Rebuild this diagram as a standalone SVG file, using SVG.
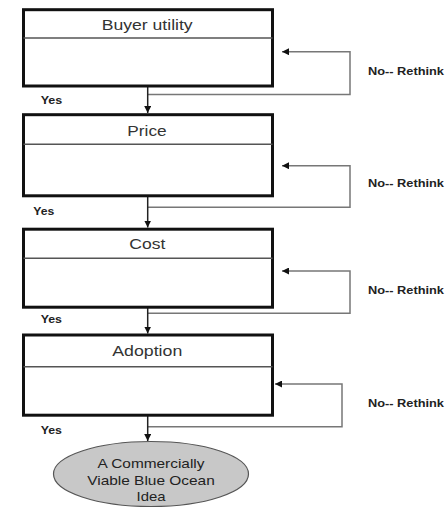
<svg xmlns="http://www.w3.org/2000/svg" width="446" height="509" viewBox="0 0 446 509">
<defs>
<marker id="ah" viewBox="0 0 10 10" refX="10" refY="5" markerWidth="7" markerHeight="7" markerUnits="userSpaceOnUse" orient="auto">
<path d="M0,0 L10,5 L0,10 Z" fill="#111"/>
</marker>
<style>
.box{fill:#fff;stroke:#111;stroke-width:3}
.div{stroke:#555;stroke-width:1.5}
.title{font-family:"Liberation Sans",Arial,sans-serif;font-size:15.5px;fill:#333;text-anchor:middle}
.lbl{font-family:"Liberation Sans",Arial,sans-serif;font-size:10px;font-weight:bold;fill:#222}
.flow{fill:none;stroke:#222;stroke-width:1.5}
.back{fill:none;stroke:#777;stroke-width:1.5}
.oval{fill:#c8c8c8;stroke:#555;stroke-width:1.2}
.otext{font-family:"Liberation Sans",Arial,sans-serif;font-size:13.5px;fill:#222;text-anchor:middle}
</style>
</defs>
<rect width="446" height="509" fill="#fff"/>
<g id="connectors">
<path class="back" d="M147.7,94.5 H350 V51.7 H282" marker-end="url(#ah)"/>
<path class="back" d="M147.7,207.3 H350 V165.7 H282" marker-end="url(#ah)"/>
<path class="back" d="M147.7,313.3 H350 V271 H282" marker-end="url(#ah)"/>
<path class="back" d="M147.7,426.7 H342 V384 H275" marker-end="url(#ah)"/>
<path class="flow" d="M147.7,86 V113" marker-end="url(#ah)"/>
<path class="flow" d="M147.7,196 V227.5" marker-end="url(#ah)"/>
<path class="flow" d="M147.7,307 V333.5" marker-end="url(#ah)"/>
<path class="flow" d="M147.7,415 V441" marker-end="url(#ah)"/>
<text class="lbl" x="40.7" y="104" textLength="21.6" lengthAdjust="spacingAndGlyphs">Yes</text>
<text class="lbl" x="33.3" y="215" textLength="21" lengthAdjust="spacingAndGlyphs">Yes</text>
<text class="lbl" x="40.7" y="323" textLength="21.3" lengthAdjust="spacingAndGlyphs">Yes</text>
<text class="lbl" x="40.7" y="434" textLength="21.3" lengthAdjust="spacingAndGlyphs">Yes</text>
<text class="lbl" x="368" y="75" textLength="76" lengthAdjust="spacingAndGlyphs">No-- Rethink</text>
<text class="lbl" x="368" y="187" textLength="76" lengthAdjust="spacingAndGlyphs">No-- Rethink</text>
<text class="lbl" x="368" y="294" textLength="76" lengthAdjust="spacingAndGlyphs">No-- Rethink</text>
<text class="lbl" x="368" y="407" textLength="76" lengthAdjust="spacingAndGlyphs">No-- Rethink</text>
</g>
<g id="buyer-utility">
<rect class="box" x="23.5" y="9.7" width="249" height="76.3"/>
<line class="div" x1="23.5" y1="38" x2="272.5" y2="38"/>
<text class="title" x="147.2" y="30" textLength="91" lengthAdjust="spacingAndGlyphs">Buyer utility</text>
</g>
<g id="price">
<rect class="box" x="23.5" y="114.7" width="249" height="81.1"/>
<line class="div" x1="23.5" y1="144.3" x2="272.5" y2="144.3"/>
<text class="title" x="147" y="135.7" textLength="39.3" lengthAdjust="spacingAndGlyphs">Price</text>
</g>
<g id="cost">
<rect class="box" x="23.5" y="229.2" width="249" height="78"/>
<line class="div" x1="23.5" y1="258.3" x2="272.5" y2="258.3"/>
<text class="title" x="147.3" y="249.3" textLength="36" lengthAdjust="spacingAndGlyphs">Cost</text>
</g>
<g id="adoption">
<rect class="box" x="23.5" y="335" width="249" height="80.2"/>
<line class="div" x1="23.5" y1="366.7" x2="272.5" y2="366.7"/>
<text class="title" x="147.3" y="356" textLength="70" lengthAdjust="spacingAndGlyphs">Adoption</text>
</g>
<g id="idea">
<ellipse class="oval" cx="151" cy="474" rx="97.5" ry="32.5"/>
<text class="otext" x="151" y="468" textLength="107" lengthAdjust="spacingAndGlyphs">A Commercially</text>
<text class="otext" x="151" y="484.5" textLength="127.6" lengthAdjust="spacingAndGlyphs">Viable Blue Ocean</text>
<text class="otext" x="151" y="501" textLength="29" lengthAdjust="spacingAndGlyphs">Idea</text>
</g>
</svg>
